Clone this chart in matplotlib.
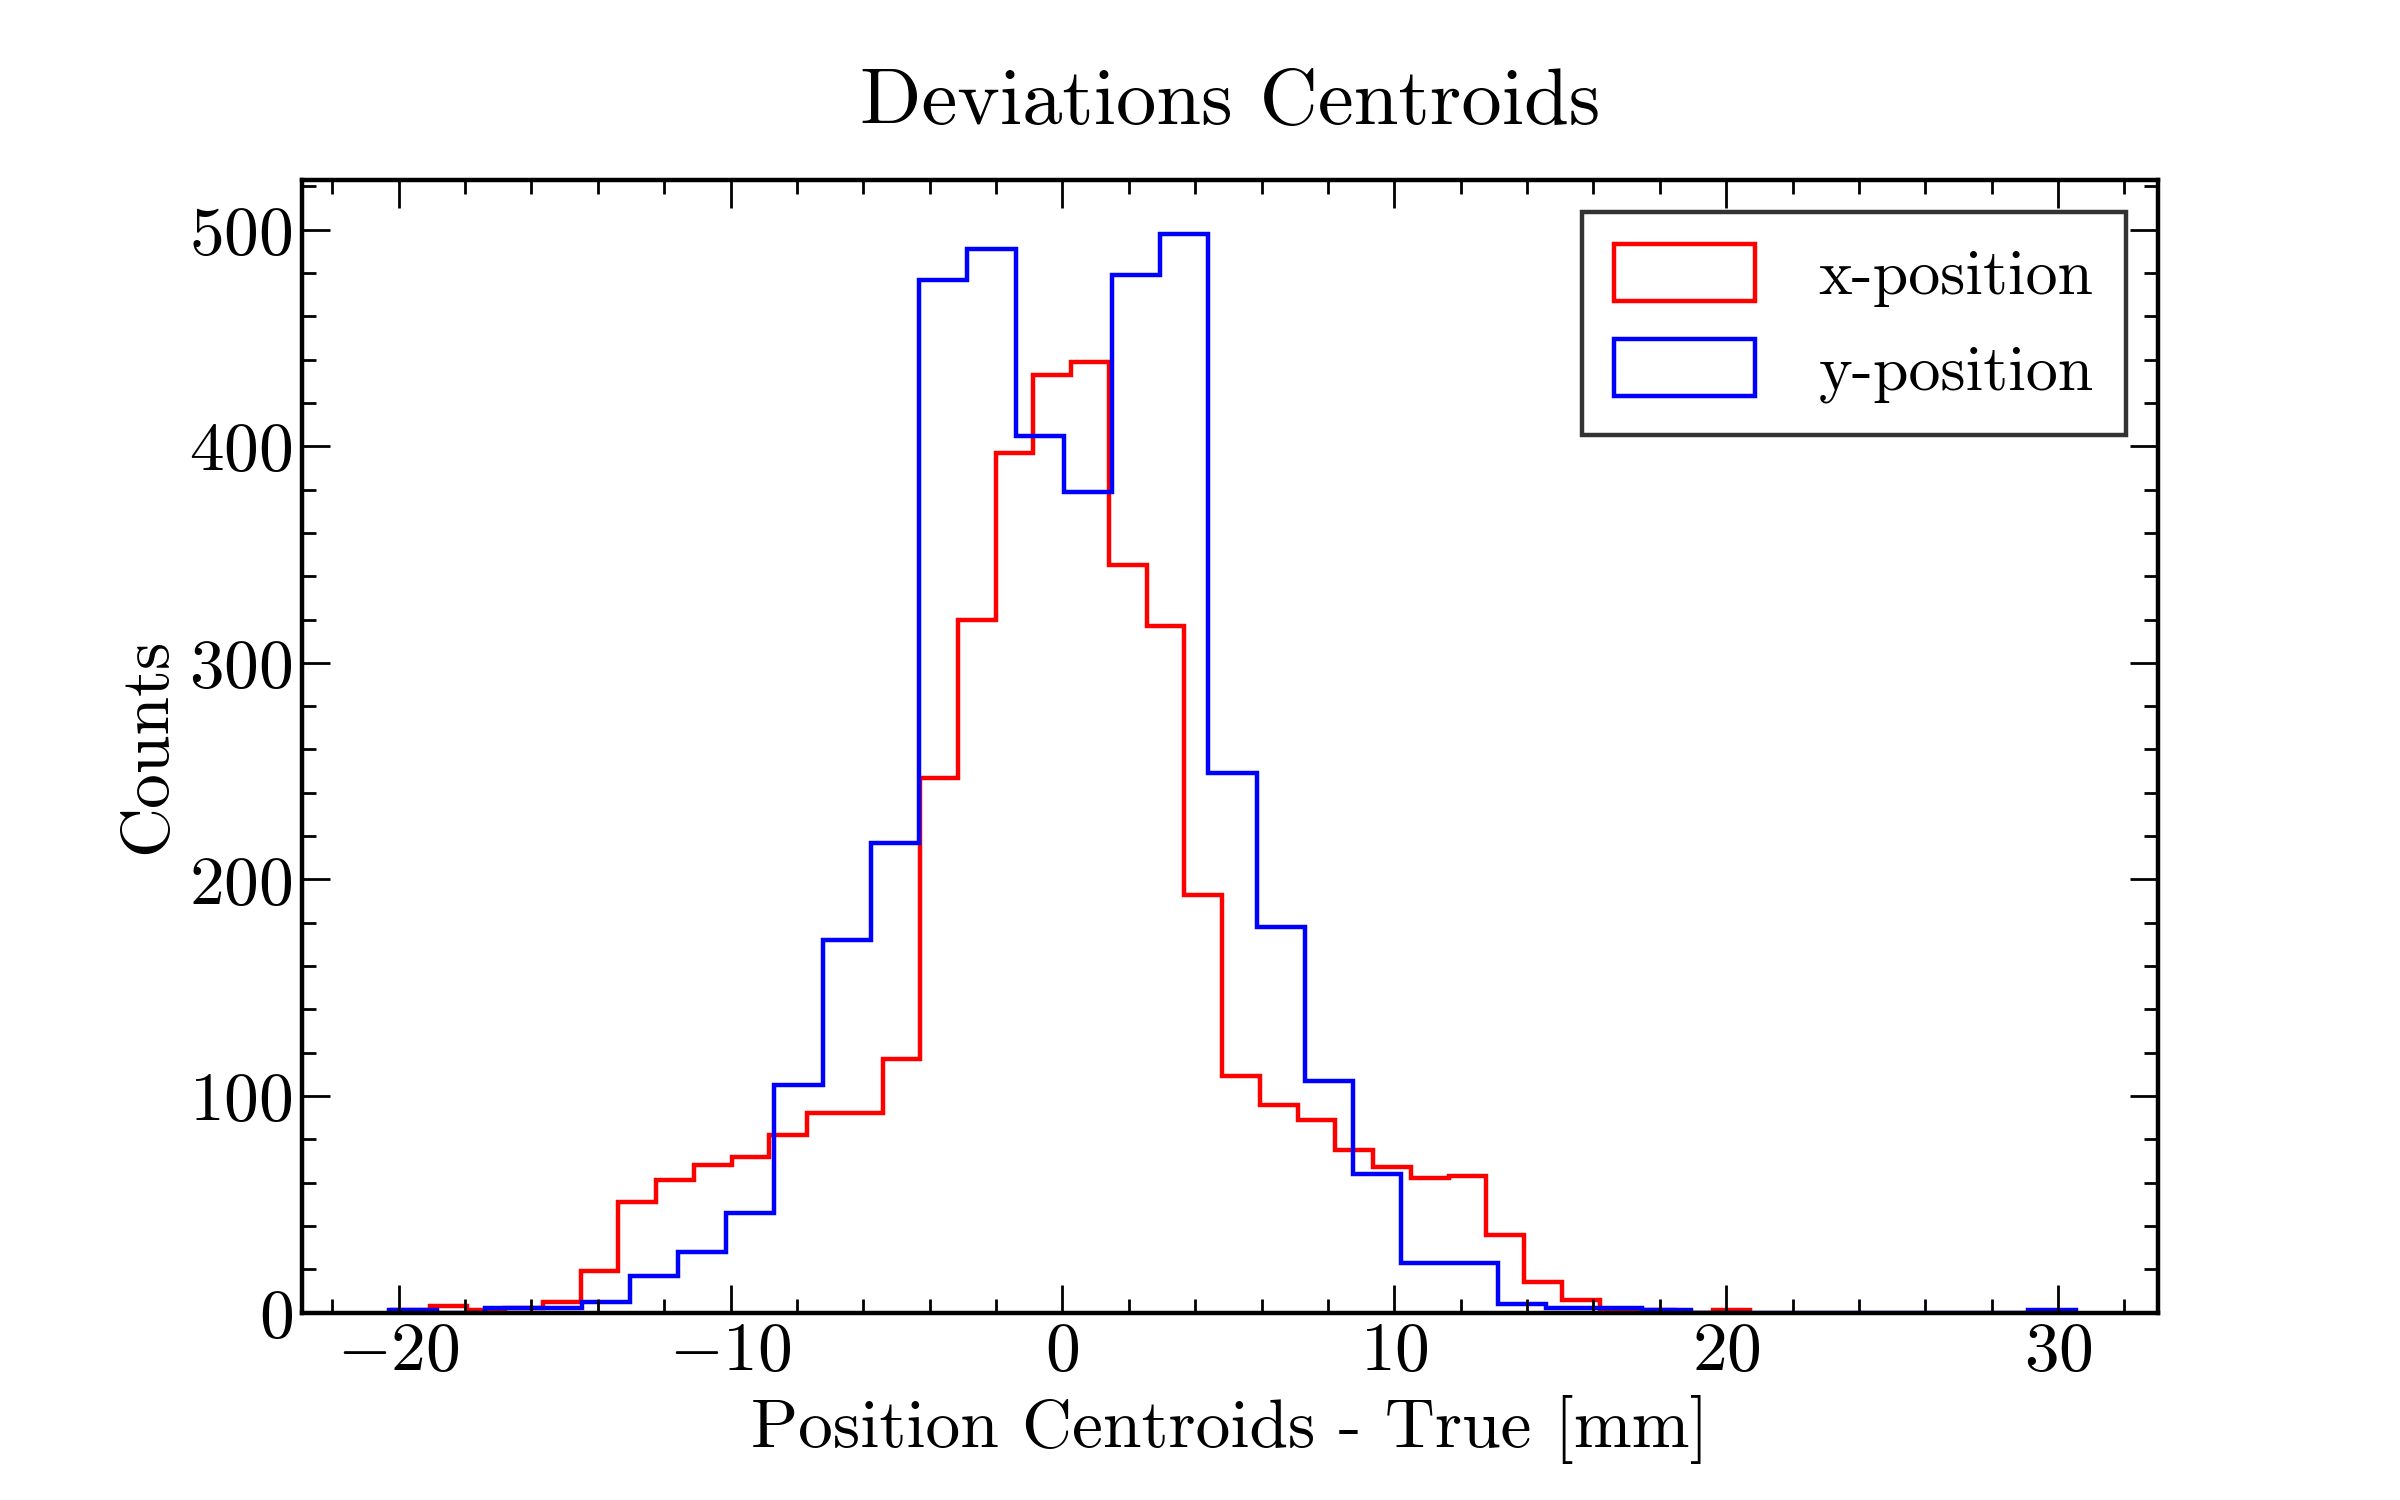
import matplotlib
matplotlib.use("Agg")
import matplotlib.pyplot as plt
from matplotlib.patches import Patch
import numpy as np

x_edges = -20.2 + 1.137 * np.arange(37)
x_counts = [1, 3, 1, 2, 5, 19, 51, 61, 68, 72, 82, 92, 92, 117, 247, 320, 397, 433,
            439, 345, 317, 193, 109, 96, 89, 75, 67, 62, 63, 36, 14, 6, 1, 1, 0, 1]
y_edges = -20.3 + 1.453 * np.arange(36)
y_counts = [1, 0, 2, 2, 5, 17, 28, 46, 105, 172, 217, 477, 491, 405, 379, 479, 498,
            249, 178, 107, 64, 23, 23, 4, 2, 2, 1, 0, 0, 0, 0, 0, 0, 0, 1]

plt.rcParams['font.family'] = ['cmr10', 'DejaVu Serif']
plt.rcParams['mathtext.fontset'] = 'cm'
plt.rcParams['axes.formatter.use_mathtext'] = True

fig = plt.figure(figsize=(12, 7.5), dpi=200)
ax = fig.add_axes([0.126, 0.125, 0.773, 0.755])
ax.stairs(x_counts, x_edges, color='red', lw=1.6)
ax.stairs(y_counts, y_edges, color='blue', lw=1.6)
ax.set_xlim(-22.9, 33.0)
ax.set_ylim(0, 523)
ax.set_xticks([-20, -10, 0, 10, 20, 30])
ax.set_yticks([0, 100, 200, 300, 400, 500])
ax.minorticks_on()
ax.tick_params(which='both', direction='in', top=True, right=True, labelsize=25)
ax.tick_params(which='major', length=10, width=1)
ax.tick_params(which='minor', length=5, width=1)
for s in ax.spines.values():
    s.set_linewidth(1.6)
ax.set_xlabel('Position Centroids - True [mm]', fontsize=25)
ax.set_ylabel('Counts', fontsize=25)
ax.set_title('Deviations Centroids', fontsize=29, pad=20)
handles = [Patch(facecolor='none', edgecolor='red', lw=1.6, label='x-position'),
           Patch(facecolor='none', edgecolor='blue', lw=1.6, label='y-position')]
leg = ax.legend(handles=handles, loc='upper right', fontsize=23, fancybox=False,
                edgecolor='#333333', framealpha=1, handlelength=2.2, handleheight=1.0,
                borderpad=0.5, labelspacing=0.5, handletextpad=1.0)
leg.get_frame().set_linewidth(1.6)
fig.savefig('out.png')
